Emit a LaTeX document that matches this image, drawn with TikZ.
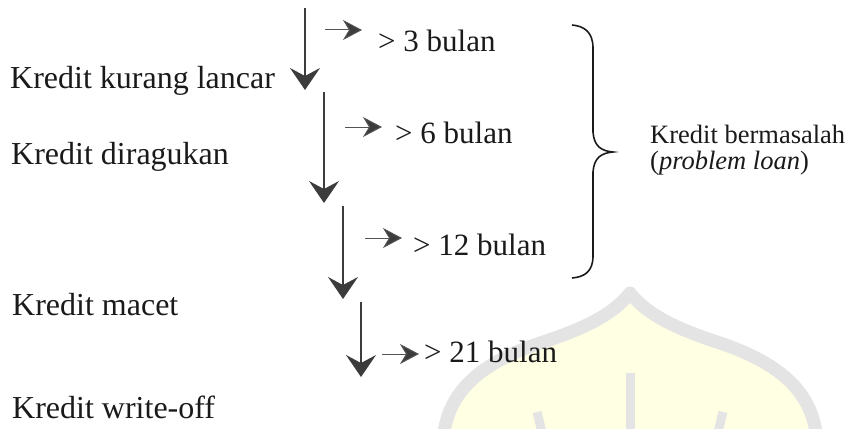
\documentclass[tikz,border=0pt]{standalone}
\usepackage{fontspec}
\setmainfont{Liberation Serif}
\usetikzlibrary{arrows.meta}
\begin{document}
\definecolor{wmfill}{HTML}{FFFFE3}
\definecolor{wmline}{HTML}{E4E4E4}
\definecolor{ink}{HTML}{1A1A1A}
\tikzset{
  lbl/.style={anchor=base west, inner sep=0pt, font=\fontsize{32}{38}\selectfont, text=ink},
  dur/.style={anchor=base west, inner sep=0pt, font=\fontsize{31}{37}\selectfont, text=ink},
  note/.style={anchor=base west, inner sep=0pt, font=\fontsize{26.5}{30}\selectfont, text=ink},
  flow/.style={draw=ink!85, line width=1.1pt, -{Stealth[length=22pt,width=30pt,inset=8pt,fill=ink!85]}},
  tick/.style={draw=ink!75, line width=1pt, -{Stealth[length=19pt,width=20pt,inset=6pt,fill=ink!85]}},
  wm/.style={draw=wmline, line width=13pt},
}
\begin{tikzpicture}[x=1pt,y=-1pt]
\useasboundingbox (0,0) rectangle (850,428);

% faint dome emblem
\fill[wmfill] (630,293) .. controls (612,316) and (580,330) .. (540,343)
  .. controls (475,365) and (447,395) .. (443,440) -- (817,440)
  .. controls (813,395) and (785,365) .. (720,343)
  .. controls (680,330) and (648,316) .. (630,293) -- cycle;
\draw[wm, line join=round] (443,440) .. controls (447,395) and (475,365) .. (540,343)
  .. controls (580,330) and (612,316) .. (630,293)
  .. controls (648,316) and (680,330) .. (720,343)
  .. controls (785,365) and (813,395) .. (817,440);
\draw[wmline, line width=9pt] (630,373) -- (630,440);
\draw[wmline, line width=9pt] (723,412) -- (716,440);
\draw[wmline, line width=9pt] (537,412) -- (544,440);

% credit categories
\node[lbl] (kl) at (10,88)  {Kredit kurang lancar};
\node[lbl] (kd) at (11,164) {Kredit diragukan};
\node[lbl] (km) at (12,315) {Kredit macet};
\node[lbl] (kw) at (12,418) {Kredit write-off};

% downward flow between categories
\coordinate (a1s) at (305,8);   \coordinate (a1e) at (305,90);
\coordinate (a2s) at (324,92);  \coordinate (a2e) at (324,203);
\coordinate (a3s) at (343,206); \coordinate (a3e) at (343,299);
\coordinate (a4s) at (361,302); \coordinate (a4e) at (361,377);
\draw[flow] (a1s) -- (a1e);
\draw[flow] (a2s) -- (a2e);
\draw[flow] (a3s) -- (a3e);
\draw[flow] (a4s) -- (a4e);

% overdue periods
\node[dur] (d1) at (378,52)  {> 3 bulan};
\node[dur] (d2) at (395,143) {> 6 bulan};
\node[dur] (d3) at (413,255) {> 12 bulan};
\node[dur] (d4) at (424,362) {> 21 bulan};
\coordinate (t1) at (325,30);  \coordinate (t1e) at (362,30);
\coordinate (t2) at (345,127); \coordinate (t2e) at (382,127);
\coordinate (t3) at (365,238); \coordinate (t3e) at (402,238);
\coordinate (t4) at (382,354); \coordinate (t4e) at (419,354);
\draw[tick] (t1) -- (t1e);
\draw[tick] (t2) -- (t2e);
\draw[tick] (t3) -- (t3e);
\draw[tick] (t4) -- (t4e);

% brace grouping the problem loans
\coordinate (btop) at (572,25);
\coordinate (tip) at (613,152);
\coordinate (bbot) at (572,278);
\draw[ink, line width=1.6pt] (btop) .. controls (584,26) and (593,32) .. (593,48)
  -- (593,132) .. controls (594,146) and (601,151) .. (tip)
  .. controls (601,153) and (594,158) .. (593,172)
  -- (593,256) .. controls (593,272) and (584,277) .. (bbot);
\node[note] (kb) at (650,143) {Kredit bermasalah};
\node[note] (pl) at (650,169) {(\textit{problem loan})};
\end{tikzpicture}
\end{document}
